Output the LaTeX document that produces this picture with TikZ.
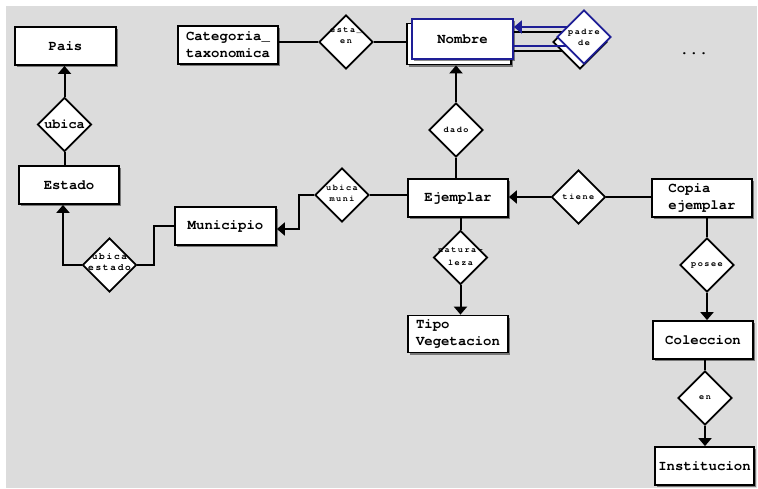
\documentclass[tikz,border=0pt]{standalone}
\usepackage{fontspec}
\newfontfamily\bxf{TeX Gyre Cursor}
\newfontfamily\smf{TeX Gyre Cursor}[LetterSpace=18]
\usetikzlibrary{shapes.geometric,arrows.meta,shadows,calc}
\definecolor{bgc}{RGB}{220,220,220}
\definecolor{erblue}{RGB}{30,30,150}
\tikzset{
  ent/.style={draw=black, line width=1.8pt, fill=white, rectangle, inner sep=0pt,
    minimum width=100pt, minimum height=38pt, align=left,
    drop shadow={shadow xshift=2pt, shadow yshift=-2pt, opacity=.45, fill=black},
    font=\bxf\bfseries\fontsize{14}{17}\selectfont},
  rel/.style={draw=black, diamond, aspect=1, line width=1.8pt, fill=white,
    minimum width=54pt, minimum height=54pt, inner sep=0pt},
  lbl/.style={inner sep=0pt, align=center, font=\smf\bfseries\fontsize{8.5}{11}\selectfont},
  lnk/.style={line width=2pt},
  arr/.style={line width=2pt, -{Triangle[width=13pt,length=8pt]}}
}
\begin{document}
\begin{tikzpicture}[x=1pt,y=-1pt]
\useasboundingbox (0,0) rectangle (758,488);
\fill[bgc] (6,6) rectangle (757,488);

% entities
\node[ent, minimum width=101pt] (pais) at (65.5,46) {Pais};
\node[ent] (estado) at (69,185) {Estado};
\node[ent] (cat) at (228,45) {Categoria\_\\taxonomica};
\node[ent, minimum width=101pt] (muni) at (225.5,226) {Municipio};
\node[ent] (ejem) at (458,198) {Ejemplar};
\node[ent] (copia) at (702,198) {Copia\\ejemplar};
\node[ent, minimum height=37pt] (tipo) at (458,334) {Tipo\\Vegetacion};
\node[ent] (colec) at (703,340) {Coleccion};
\node[ent, minimum width=99pt] (inst) at (704.5,466) {Institucion};

% Nombre (double) and padre de
\node[ent, minimum width=104pt, minimum height=41pt] (nomB) at (459,44) {};
\coordinate (padBc) at (580,42);
\draw[lnk] ($(nomB.east)+(0,-12)$) -- ($(padBc)+(0,-10)$);
\draw[lnk] ($(nomB.east)+(0,7)$) -- ($(padBc)+(0,9)$);
\node[rel] (padB) at (padBc) {};
\node[ent, draw=erblue, drop shadow={opacity=0}, minimum width=101pt, minimum height=40pt] (nomA) at (462.5,39) {Nombre};
\coordinate (padAc) at (584,37);
\draw[arr, erblue] ($(padAc)+(0,-10)$) -- ($(nomA.east)+(0,-12)$);
\draw[lnk, erblue] ($(padAc)+(0,9)$) -- ($(nomA.east)+(0,7)$);
\node[rel, draw=erblue] (padA) at (padAc) {};
\node[lbl] (tpad) at (584,37.5) {padre\\de};

% relationships
\node[rel] (ubica) at (64.5,124.5) {};
\node[inner sep=0pt, font=\bxf\bfseries\fontsize{13.5}{15}\selectfont] (tubica) at (64.5,124.5) {ubica};
\node[rel] (esta) at (346,42) {};
\node[lbl] (testa) at (346,36) {esta\_\\en};
\node[rel] (dado) at (456,130) {};
\node[lbl] (tdado) at (456,130) {dado};
\node[rel] (umuni) at (342,195) {};
\node[lbl] (tumuni) at (342,193) {ubica\\muni};
\node[rel] (uest) at (109.5,265) {};
\node[lbl, font=\smf\bfseries\fontsize{9.5}{11}\selectfont] (tuest) at (109.5,262.5) {ubica\\estado};
\node[rel] (tiene) at (578.5,197) {};
\node[lbl] (ttiene) at (578.5,197) {tiene};
\node[rel] (natura) at (460.5,257.5) {};
\node[lbl, font=\smf\bfseries\fontsize{8.5}{13}\selectfont] (tnatura) at (460.5,257) {natura-\\leza};
\node[rel] (posee) at (707,265) {};
\node[lbl] (tposee) at (707,265) {posee};
\node[rel] (en) at (705,398) {};
\node[lbl] (ten) at (705,398) {en};

\node[inner sep=0pt, font=\bxf\bfseries\fontsize{16}{17}\selectfont] (dots) at (694,54) {...};

% connectors
\draw[arr] (ubica.north) -- (ubica.north |- pais.south);
\draw[lnk] (estado.north -| ubica.south) -- (ubica.south);
\draw[arr] (uest.west) -| ($(estado.south)+(-6,0)$);
\draw[lnk] (muni.west) -- ++(-20,0) |- (uest.east);
\draw[arr] (umuni.west) -- ++(-15,0) |- ($(muni.east)+(0,3)$);
\draw[lnk] (umuni.east) -- (umuni.east -| ejem.west);
\draw[lnk] (esta.west -| cat.east) -- (esta.west);
\draw[lnk] (esta.east) -- (esta.east -| nomB.west);
\draw[arr] (dado.north) -- (dado.north |- nomB.south);
\draw[lnk] (dado.south |- ejem.north) -- (dado.south);
\draw[arr] (tiene.west) -- (tiene.west -| ejem.east);
\draw[lnk] (tiene.east -| copia.west) -- (tiene.east);
\draw[lnk] (ejem.south -| natura.north) -- (natura.north);
\draw[arr] (natura.south) -- (natura.south |- tipo.north);
\draw[lnk] (posee.north |- copia.south) -- (posee.north);
\draw[arr] (posee.south) -- (posee.south |- colec.north);
\draw[lnk] (en.north |- colec.south) -- (en.north);
\draw[arr] (en.south) -- (en.south |- inst.north);
\end{tikzpicture}
\end{document}
